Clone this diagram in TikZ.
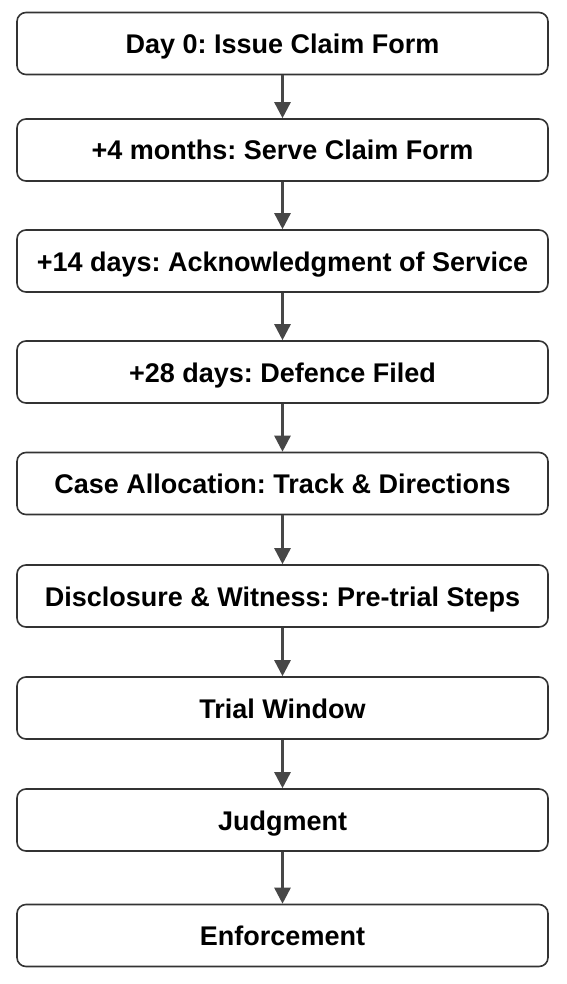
\documentclass[tikz,border=0pt]{standalone}
\usepackage{fontspec}
\setmainfont{Liberation Sans}
\frenchspacing
\usetikzlibrary{arrows.meta,positioning}

\begin{document}
\begin{tikzpicture}
          [x=1pt,y=-1pt,
           every node/.style={draw=black!80,line width=1.6pt,rounded corners=9pt,
             minimum width=531pt,minimum height=62pt,inner sep=0pt,
             text height=20pt,text depth=0pt,
             font=\fontsize{27}{32}\selectfont\bfseries,text=black},
           flow/.style={draw=black!72,line width=2.6pt,-{Triangle[width=16pt,length=16pt]}}]
          \useasboundingbox (0,0) rectangle (566,984);
          \node (s1) at (282.5,43.5)  {Day 0: Issue Claim Form};
          \node (s2) at (282.5,150)   {+4 months: Serve Claim Form};
          \node (s3) at (282.5,261)   {+14 days: Acknowledgment of Service};
          \node (s4) at (282.5,372)   {+28 days: Defence Filed};
          \node (s5) at (282.5,483.5) {Case Allocation: Track \& Directions};
          \node (s6) at (282.5,596)   {Disclosure \& Witness: Pre-trial Steps};
          \node (s7) at (282.5,708)   {Trial Window};
          \node (s8) at (282.5,820)   {Judgment};
          \node (s9) at (282.5,935.5) {Enforcement};

          \foreach \from/\to in {s1/s2,s2/s3,s3/s4,s4/s5,s5/s6,s6/s7,s7/s8,s8/s9}
            \draw[flow] (\from.south) -- (\to.north);
        \end{tikzpicture}
\end{document}
